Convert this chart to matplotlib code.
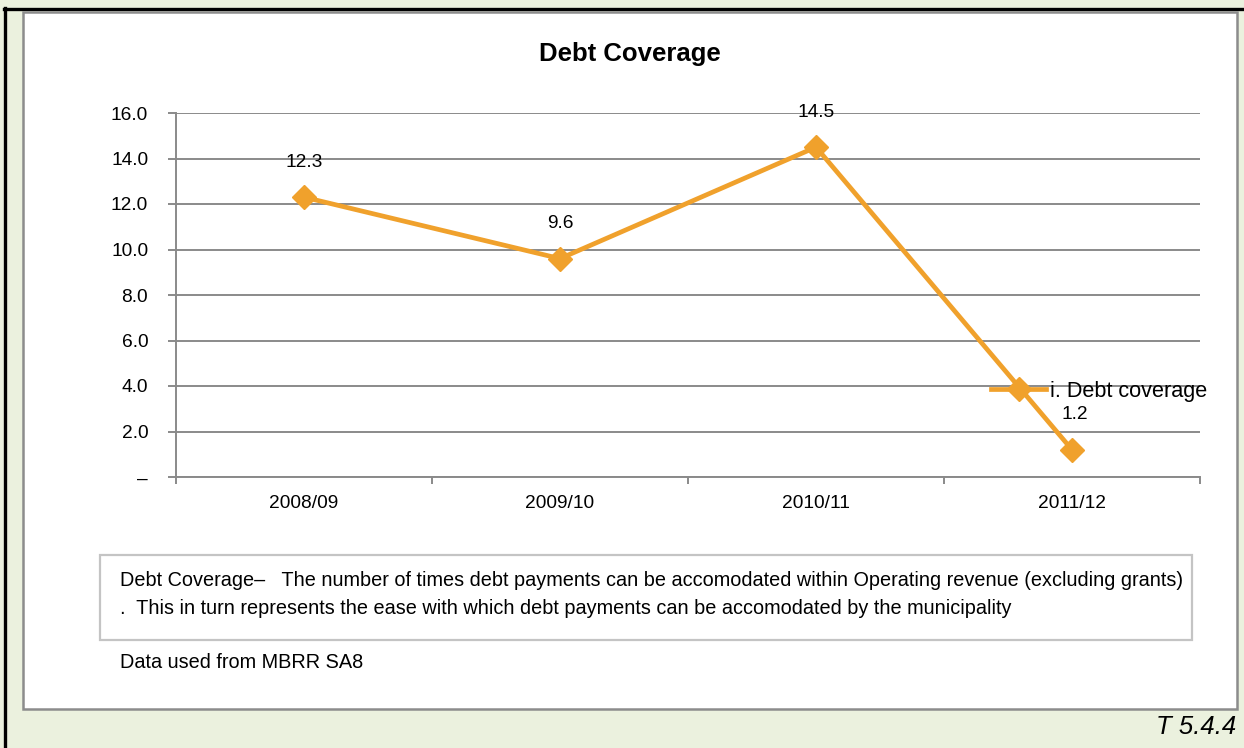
import matplotlib
matplotlib.use("Agg")
import matplotlib.pyplot as plt
from matplotlib.patches import Rectangle
from matplotlib.lines import Line2D
from matplotlib.ticker import FixedLocator, FuncFormatter

# ratio data
years = ["2008/09", "2009/10", "2010/11", "2011/12"]
debt_coverage = [12.3, 9.6, 14.5, 1.2]
y_ticks = [0, 2, 4, 6, 8, 10, 12, 14, 16]

W, H = 1244, 748
BG = "#EBF1DE"
ORANGE = "#F0A12C"
GRID = "#8A8A8A"
FS = 13.8
NOTE_FS = 14.3

plt.rcParams["font.family"] = ["Liberation Sans", "DejaVu Sans"]


def fx(x):
    return x / W


def fy(y):
    return 1 - y / H


fig = plt.figure(figsize=(W / 100, H / 100), dpi=100, facecolor=BG)

# frame lines and white panel
fig.add_artist(Line2D([fx(5), fx(5)], [fy(8), 0], color="black", lw=2.4, zorder=-2))
fig.add_artist(Line2D([fx(4), 1], [fy(8.5), fy(8.5)], color="black", lw=2.4, zorder=-2))
fig.add_artist(Rectangle((fx(23), fy(709)), fx(1237) - fx(23), fy(12) - fy(709),
                         facecolor="white", edgecolor="#8C8C8C", lw=1.8, zorder=-1))

ax = fig.add_axes([fx(176), fy(477), fx(1024), (477 - 113) / H])
ax.set_facecolor("white")
ax.plot(range(len(years)), debt_coverage, color=ORANGE, lw=3.4,
        marker="D", markersize=12, label="i. Debt coverage", zorder=3,
        clip_on=False)

for i, v in enumerate(debt_coverage):
    ax.annotate(f"{v:.1f}", (i, v), xytext=(2 if i == 3 else 0, 25),
                textcoords="offset points", ha="center", va="center",
                fontsize=FS)

ax.set_xlim(-0.5, len(years) - 0.5)
ax.set_ylim(0, 16)
ax.set_yticks(y_ticks)
ax.yaxis.set_major_formatter(FuncFormatter(lambda v, p: "–" if v == 0 else f"{v:.1f}"))
ax.yaxis.grid(True, color=GRID, lw=1.4)
ax.set_axisbelow(True)

ax.set_xticks(range(len(years)))
ax.set_xticklabels(years)
ax.xaxis.set_minor_locator(FixedLocator([i - 0.5 for i in range(len(years) + 1)]))
ax.tick_params(axis="x", which="major", length=0, pad=13, labelsize=FS)
ax.tick_params(axis="x", which="minor", length=5, width=1.4, color=GRID)
ax.tick_params(axis="y", length=6, width=1.4, color=GRID, pad=14, labelsize=FS)

for s in ("top", "right"):
    ax.spines[s].set_visible(False)
for s in ("left", "bottom"):
    ax.spines[s].set_color(GRID)
    ax.spines[s].set_linewidth(1.4)

ax.legend(loc="center left", bbox_to_anchor=(fx(991), fy(391)),
          bbox_transform=fig.transFigure, frameon=False, fontsize=15.6,
          handlelength=2.55, handletextpad=0.15, borderpad=0, borderaxespad=0)

fig.text(fx(630), fy(54), "Debt Coverage", ha="center", va="center",
         fontsize=18.5, fontweight="bold")

# explanatory note under the chart
fig.add_artist(Rectangle((fx(100), fy(640)), fx(1192) - fx(100), fy(555) - fy(640),
                         facecolor="white", edgecolor="#C4C4C4", lw=1.6))
fig.text(fx(120), fy(580),
         "Debt Coverage–   The number of times debt payments can be accomodated "
         "within Operating revenue (excluding grants)",
         ha="left", va="center", fontsize=NOTE_FS)
fig.text(fx(120), fy(609),
         ".  This in turn represents the ease with which debt payments can be "
         "accomodated by the municipality",
         ha="left", va="center", fontsize=NOTE_FS)
fig.text(fx(120), fy(663), "Data used from MBRR SA8", ha="left", va="center",
         fontsize=NOTE_FS)
fig.text(fx(1236), fy(727), "T 5.4.4", ha="right", va="center", fontsize=18.5,
         fontstyle="italic")

fig.savefig("out.png", dpi=100, facecolor=BG)
